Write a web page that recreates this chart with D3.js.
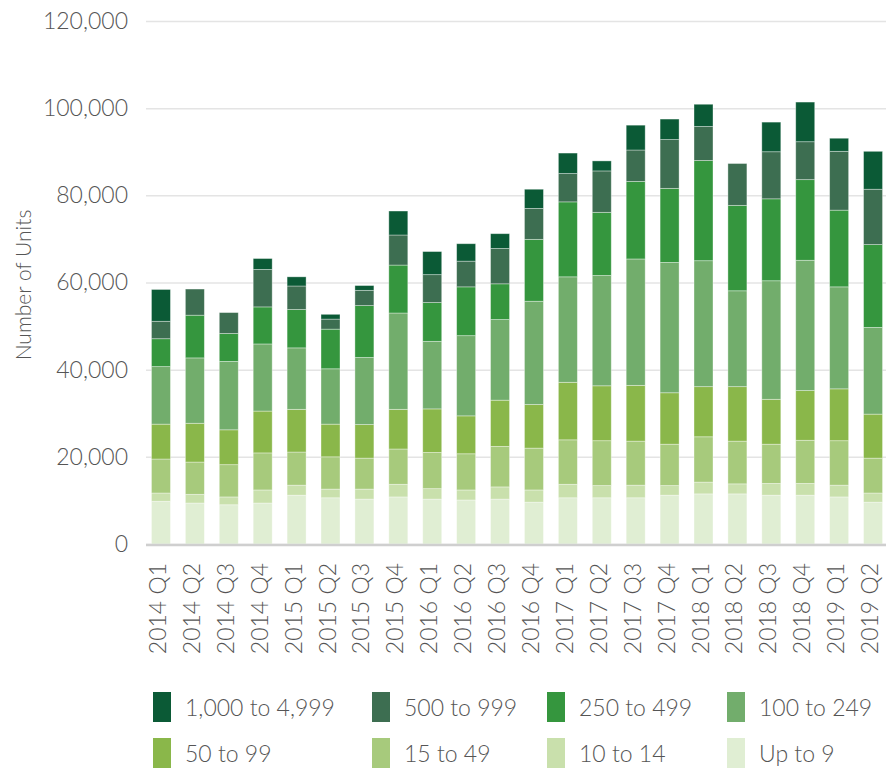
<html>
<head>
<style>
  body { margin: 0; background: #fff; }
  .axis .domain { display: none; }
  .axis text { font-family: Lato, "Open Sans", sans-serif; font-weight: 300; fill: #555; }
</style>
</head>
<body>
<script src="https://d3js.org/d3.v7.min.js"></script>
<script>

var quarters = ["2014 Q1","2014 Q2","2014 Q3","2014 Q4","2015 Q1","2015 Q2","2015 Q3","2015 Q4",
  "2016 Q1","2016 Q2","2016 Q3","2016 Q4","2017 Q1","2017 Q2","2017 Q3","2017 Q4",
  "2018 Q1","2018 Q2","2018 Q3","2018 Q4","2019 Q1","2019 Q2"];

// units by size band, bottom of the stack first
var upTo9     = [9800, 9400, 9000, 9400, 11200, 10600, 10300, 10800, 10300, 10100, 10300, 9600, 10600, 10600, 10600, 11200, 11500, 11500, 11200, 11200, 10800, 9600];
var s10to14   = [1900, 2000, 1800, 3000, 2300, 2000, 2300, 2900, 2400, 2300, 2800, 2800, 3100, 2800, 2900, 2200, 2700, 2300, 2700, 2700, 2700, 2100];
var s15to49   = [7800, 7400, 7400, 8500, 7600, 7400, 7100, 8100, 8300, 8300, 9300, 9600, 10200, 10300, 10100, 9500, 10400, 9800, 9000, 9900, 10200, 8000];
var s50to99   = [8000, 8900, 8000, 9600, 9800, 7500, 7700, 9100, 10000, 8700, 10600, 10000, 13200, 12600, 12800, 11800, 11500, 12500, 10300, 11400, 11900, 10100];
var s100to249 = [13200, 15000, 15700, 15400, 14100, 12700, 15400, 22100, 15500, 18400, 18500, 23700, 24200, 25300, 29000, 29900, 28900, 22000, 27200, 29900, 23400, 19900];
var s250to499 = [6400, 9800, 6400, 8500, 8800, 9100, 11900, 11000, 8900, 11200, 8200, 14200, 17200, 14500, 17800, 17000, 23000, 19600, 18800, 18500, 17600, 19000];
var s500to999 = [4000, 6000, 4800, 8600, 5400, 2300, 3500, 6900, 6400, 5900, 8100, 7100, 6500, 9500, 7200, 11200, 7800, 9600, 10800, 8700, 13500, 12700];
var s1000to4999 = [7300, 0, 0, 2500, 2100, 1100, 1100, 5500, 5300, 4000, 3400, 4400, 4700, 2300, 5700, 4700, 5100, 0, 6800, 9100, 3000, 8700];

var keys = ["Up to 9", "10 to 14", "15 to 49", "50 to 99", "100 to 249", "250 to 499", "500 to 999", "1,000 to 4,999"];
var series = [upTo9, s10to14, s15to49, s50to99, s100to249, s250to499, s500to999, s1000to4999];
var colors = ["#e0eed3", "#c9e0ac", "#a7ca7c", "#8ab74a", "#72ad6c", "#35963e", "#3d6e51", "#0b5a36"];
var yTicks = [0, 20000, 40000, 60000, 80000, 100000, 120000];

var width = 886, height = 773;
var plotLeft = 146, plotRight = 886, plotBottom = 544, plotTop = 21;
var font = "Lato, 'Open Sans', sans-serif";

var data = quarters.map(function(q, i) {
  var d = { quarter: q };
  keys.forEach(function(k, j) { d[k] = series[j][i]; });
  return d;
});

var svg = d3.select("body").append("svg")
  .attr("width", width)
  .attr("height", height);

var x = d3.scaleBand()
  .domain(quarters)
  .range([144, 890])
  .paddingInner(0.44)
  .paddingOuter(0.22);

var y = d3.scaleLinear()
  .domain([0, 120000])
  .range([plotBottom, plotTop]);

var z = d3.scaleOrdinal().domain(keys).range(colors);

// gridlines + y labels
var yAxis = svg.append("g")
  .attr("class", "axis")
  .attr("transform", "translate(" + plotLeft + ",0)")
  .call(d3.axisLeft(y).tickValues(yTicks).tickSize(-(plotRight - plotLeft)).tickPadding(18).tickFormat(d3.format(",")));
yAxis.selectAll("line").attr("stroke", "#e4e4e4").attr("stroke-width", 1.5);
yAxis.selectAll("text").style("font-size", "23px");

// bars
svg.append("g")
  .selectAll("g")
  .data(d3.stack().keys(keys)(data))
  .enter().append("g")
    .attr("fill", function(d) { return z(d.key); })
  .selectAll("rect")
  .data(function(d) { return d; })
  .enter().append("rect")
    .attr("x", function(d) { return x(d.data.quarter); })
    .attr("y", function(d) { return y(d[1]); })
    .attr("height", function(d) { return y(d[0]) - y(d[1]); })
    .attr("width", x.bandwidth())
    .attr("stroke", "rgba(255,255,255,0.45)")
    .attr("stroke-width", 0.8);

// baseline
svg.append("line")
  .attr("x1", plotLeft).attr("x2", plotRight)
  .attr("y1", y(0) + 1).attr("y2", y(0) + 1)
  .attr("stroke", "#cfcfcf")
  .attr("stroke-width", 2.5);

// x labels
var xAxis = svg.append("g")
  .attr("class", "axis")
  .attr("transform", "translate(0," + plotBottom + ")")
  .call(d3.axisBottom(x).tickSize(0));
xAxis.selectAll("text")
  .style("font-size", "23px")
  .style("text-anchor", "end")
  .attr("transform", "rotate(-90)")
  .attr("x", -19)
  .attr("y", -3)
  .attr("dy", "0.35em");

// y title
svg.append("text")
  .attr("transform", "translate(24,285) rotate(-90)")
  .attr("text-anchor", "middle")
  .attr("dy", "0.35em")
  .style("font-family", font)
  .style("font-weight", 300)
  .style("font-size", "21px")
  .attr("fill", "#555")
  .text("Number of Units");

// legend, 4 columns x 2 rows, largest band first
var legendCols = [153, 372, 547, 727], legendRows = [692, 738];
var legend = svg.append("g")
  .selectAll("g")
  .data(keys.slice().reverse())
  .enter().append("g")
    .attr("transform", function(d, i) { return "translate(" + legendCols[i % 4] + "," + legendRows[Math.floor(i / 4)] + ")"; });

legend.append("rect")
  .attr("width", 18)
  .attr("height", 30)
  .attr("fill", z);

legend.append("text")
  .attr("x", 32)
  .attr("y", 24)
  .style("font-family", font)
  .style("font-weight", 300)
  .style("font-size", "23px")
  .attr("fill", "#555")
  .text(function(d) { return d; });

</script>
</body>
</html>
